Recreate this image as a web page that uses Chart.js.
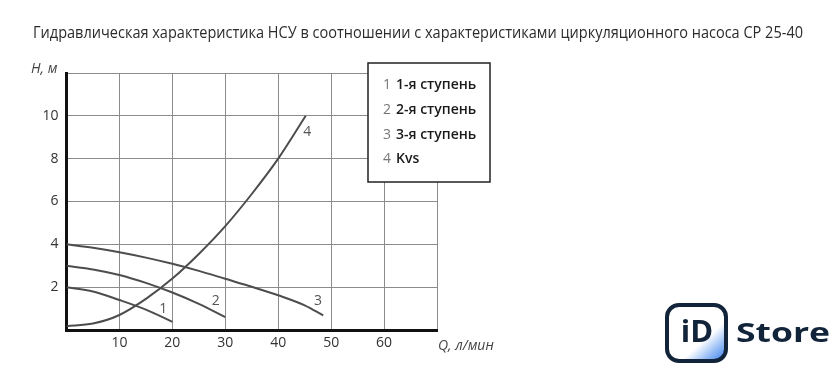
<!DOCTYPE html>
<html>
<head>
<meta charset="utf-8">
<script src="https://cdn.jsdelivr.net/npm/chart.js@4/dist/chart.umd.min.js"></script>
<style>
  html, body { margin: 0; padding: 0; background: #fff; }
  canvas { display: block; }
</style>
</head>
<body>
<canvas id="myChart" width="840" height="383"></canvas>
<script>
// chart data
const chartTitle = "Гидравлическая характеристика НСУ в соотношении с характеристиками циркуляционного насоса CP 25-40";
const seriesNumbers = ["1", "2", "3", "4"];
const seriesNames = ["1-я ступень", "2-я ступень", "3-я ступень", "Kvs"];

const qStage1 = [0, 5, 10, 15, 20];
const hStage1 = [2.0, 1.8, 1.4, 0.95, 0.38];

const qStage2 = [0, 5, 10, 15, 20, 25, 30];
const hStage2 = [3.0, 2.83, 2.57, 2.2, 1.75, 1.22, 0.6];

const qStage3 = [0, 5, 10, 15, 20, 25, 30, 35, 40, 45, 48.5];
const hStage3 = [4.0, 3.84, 3.63, 3.38, 3.09, 2.76, 2.39, 2.02, 1.62, 1.15, 0.68];

const qKvs = [0, 5, 10, 15, 20, 25, 30, 35, 40, 45.2];
const hKvs = [0.18, 0.3, 0.7, 1.45, 2.4, 3.55, 4.85, 6.35, 8.0, 10.0];

const xTicks = [10, 20, 30, 40, 50, 60];
const yTicks = [2, 4, 6, 8, 10];
const xAxisName = "Q, л/мин";
const yAxisName = "H, м";

const toPoints = (xs, ys) => xs.map((x, i) => ({ x: x, y: ys[i] }));

const lineColor = "#4d4d4d";
const gridColor = "#8c8c8c";

const makeSet = (label, xs, ys) => ({
  label: label,
  data: toPoints(xs, ys),
  showLine: true,
  borderColor: lineColor,
  borderWidth: 2,
  pointRadius: 0,
  cubicInterpolationMode: "monotone",
  fill: false,
});

// extra drawing: title, axis names, curve numbers, legend box, logo
const decorPlugin = {
  id: "decor",
  afterDraw(chart) {
    const ctx = chart.ctx;
    const xs = chart.scales.x;
    const ys = chart.scales.y;
    ctx.save();

    // title
    ctx.font = "16px 'Liberation Sans Narrow', 'Open Sans', sans-serif";
    ctx.fillStyle = "#2b2b2b";
    ctx.textBaseline = "alphabetic";
    ctx.textAlign = "left";
    const w = ctx.measureText(chartTitle).width;
    const target = 770;
    ctx.save();
    ctx.translate(33, 38);
    ctx.scale(target / w, 1);
    ctx.fillText(chartTitle, 0, 0);
    ctx.restore();

    // axis names
    ctx.font = "italic 14px 'Open Sans', sans-serif";
    ctx.fillStyle = "#444";
    ctx.textBaseline = "middle";
    ctx.fillText(yAxisName, 31, 69);
    ctx.fillText(xAxisName, 438, 346);

    // curve numbers
    ctx.font = "14px 'Open Sans', sans-serif";
    ctx.fillStyle = "#555";
    ctx.textAlign = "center";
    const labelAt = [[18.3, 1.0], [28.2, 1.35], [47.5, 1.35], [45.5, 9.25]];
    labelAt.forEach((p, i) => {
      ctx.fillText(seriesNumbers[i], xs.getPixelForValue(p[0]), ys.getPixelForValue(p[1]));
    });

    // legend box
    ctx.fillStyle = "#fff";
    ctx.fillRect(368, 63, 122, 119);
    ctx.strokeStyle = "#222";
    ctx.lineWidth = 1.5;
    ctx.strokeRect(368, 63, 122, 119);
    ctx.textAlign = "left";
    seriesNames.forEach((name, i) => {
      const y = 85 + i * 24.8;
      ctx.font = "14px 'Open Sans', sans-serif";
      ctx.fillStyle = "#777";
      ctx.fillText(seriesNumbers[i], 383, y);
      ctx.font = "600 14px 'Open Sans', sans-serif";
      ctx.fillStyle = "#1a1a1a";
      ctx.fillText(name, 396, y);
    });

    // logo
    const grad = ctx.createLinearGradient(680, 315, 722, 362);
    grad.addColorStop(0, "#ffffff");
    grad.addColorStop(0.55, "#ffffff");
    grad.addColorStop(0.8, "#8fb8f5");
    grad.addColorStop(1, "#3f83ee");
    ctx.beginPath();
    ctx.roundRect(667, 305, 59, 56, 12);
    ctx.fillStyle = grad;
    ctx.fill();
    ctx.lineWidth = 4;
    ctx.strokeStyle = "#12243a";
    ctx.stroke();
    ctx.fillStyle = "#12243a";
    ctx.font = "bold 31px 'Open Sans', sans-serif";
    ctx.textBaseline = "alphabetic";
    ctx.textAlign = "center";
    ctx.fillText("iD", 697, 342);
    ctx.textAlign = "left";
    ctx.font = "bold 27px 'Open Sans', sans-serif";
    const sw = ctx.measureText("Store").width;
    ctx.save();
    ctx.translate(736, 342);
    ctx.scale(94 / sw, 1);
    ctx.fillText("Store", 0, 0);
    ctx.restore();

    ctx.restore();
  },
};

const ctx = document.getElementById("myChart").getContext("2d");
new Chart(ctx, {
  type: "scatter",
  data: {
    datasets: [
      makeSet(seriesNames[0], qStage1, hStage1),
      makeSet(seriesNames[1], qStage2, hStage2),
      makeSet(seriesNames[2], qStage3, hStage3),
      makeSet(seriesNames[3], qKvs, hKvs),
    ],
  },
  options: {
    responsive: false,
    animation: false,
    layout: { padding: { left: 0, top: 73, right: 403, bottom: 0 } },
    plugins: {
      legend: { display: false },
      title: { display: false },
      tooltip: { enabled: false },
    },
    scales: {
      x: {
        type: "linear",
        min: 0,
        max: 70,
        afterFit: (s) => { s.height = 53; },
        afterBuildTicks: (s) => { s.ticks = [0].concat(xTicks, [70]).map(v => ({ value: v })); },
        ticks: {
          callback: (v) => (xTicks.includes(v) ? String(v) : ""),
          color: "#333",
          font: { family: "'Open Sans', sans-serif", size: 14 },
          padding: 5,
          maxRotation: 0,
        },
        grid: { color: gridColor, lineWidth: 1, drawTicks: false },
        border: { color: "#111", width: 3 },
      },
      y: {
        type: "linear",
        min: 0,
        max: 12,
        afterFit: (s) => { s.width = 66.5; },
        afterBuildTicks: (s) => { s.ticks = [0].concat(yTicks, [12]).map(v => ({ value: v })); },
        ticks: {
          callback: (v) => (yTicks.includes(v) ? String(v) : ""),
          color: "#333",
          font: { family: "'Open Sans', sans-serif", size: 14 },
          padding: 8,
        },
        grid: { color: gridColor, lineWidth: 1, drawTicks: false },
        border: { color: "#111", width: 3 },
      },
    },
  },
  plugins: [decorPlugin],
});
</script>
</body>
</html>
